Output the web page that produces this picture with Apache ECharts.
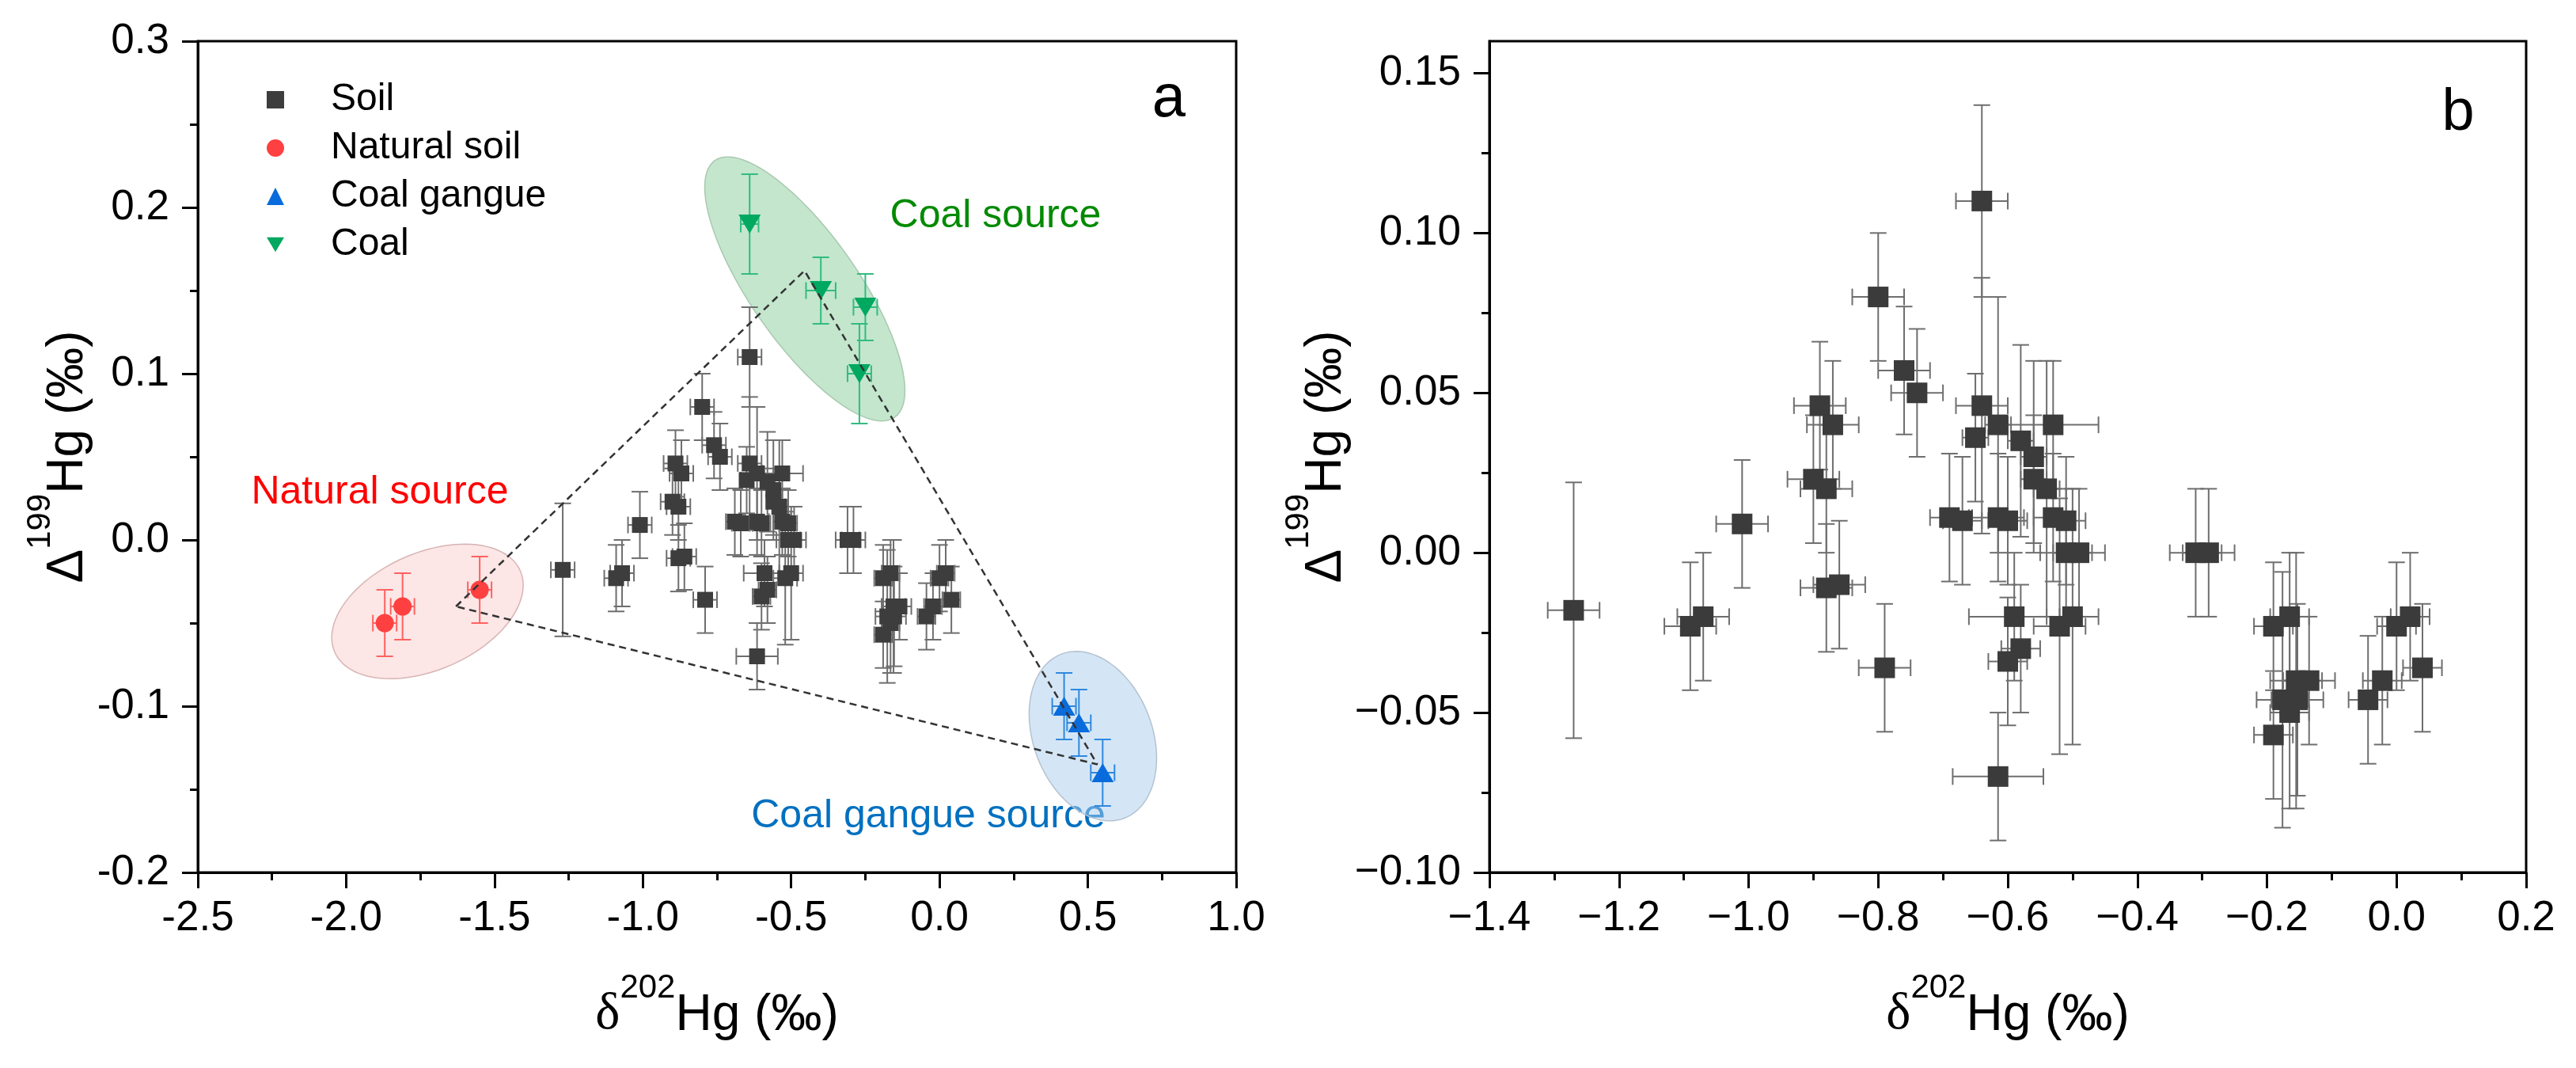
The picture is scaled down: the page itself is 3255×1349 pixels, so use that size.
<!DOCTYPE html>
<html>
<head>
<meta charset="utf-8">
<script src="https://cdn.jsdelivr.net/npm/echarts@6/dist/echarts.min.js"></script>
<style>
  html, body { margin: 0; padding: 0; background: #fff; }
  #chart { width: 3255px; height: 1349px; }
</style>
</head>
<body>
<div id="chart"></div>
<script>
// Hg isotopes: soil vs. sources -------------------------------------------

// soil samples (same set in both panels)
const soilX = [-1.27, -1.09, -1.07, -1.01, -0.90, -0.89, -0.88, -0.87, -0.88, -0.86,
  -0.80, -0.79, -0.76, -0.74, -0.69, -0.67, -0.65, -0.64, -0.64, -0.615,
  -0.615, -0.60, -0.615, -0.59, -0.58, -0.60, -0.58, -0.56, -0.56, -0.54,
  -0.53, -0.53, -0.51, -0.51, -0.49, -0.52, -0.50, -0.31, -0.29, -0.19,
  -0.165, -0.19, -0.176, -0.153, -0.165, -0.155, -0.135, -0.044, -0.022, 0.0,
  0.021, 0.040];
const soilY = [-0.018, -0.023, -0.020, 0.009, 0.023, 0.046, 0.020, 0.040, -0.011, -0.010,
  0.080, -0.036, 0.057, 0.050, 0.011, 0.010, 0.036, 0.110, 0.046, 0.040,
  0.011, 0.010, -0.070, -0.020, -0.030, -0.034, 0.035, 0.030, 0.023, 0.020,
  0.040, 0.011, 0.010, 0.000, 0.000, -0.023, -0.020, 0.000, 0.000, -0.023,
  -0.020, -0.057, -0.046, -0.046, -0.050, -0.040, -0.040, -0.046, -0.040, -0.023,
  -0.020, -0.036];
const soilEx = [0.04, 0.04, 0.04, 0.04, 0.04, 0.04, 0.04, 0.04, 0.04, 0.04,
  0.04, 0.04, 0.04, 0.04, 0.03, 0.03, 0.02, 0.04, 0.04, 0.02,
  0.04, 0.03, 0.07, 0.07, 0.03, 0.03, 0.02, 0.02, 0.02, 0.02,
  0.07, 0.03, 0.03, 0.04, 0.04, 0.04, 0.04, 0.04, 0.04, 0.03,
  0.03, 0.03, 0.04, 0.04, 0.03, 0.04, 0.04, 0.03, 0.03, 0.03,
  0.03, 0.03];
const soilEy = [0.04, 0.02, 0.02, 0.02, 0.02, 0.02, 0.02, 0.02, 0.02, 0.02,
  0.02, 0.02, 0.02, 0.02, 0.02, 0.02, 0.02, 0.03, 0.04, 0.04,
  0.02, 0.02, 0.02, 0.02, 0.02, 0.02, 0.03, 0.03, 0.02, 0.04,
  0.02, 0.02, 0.02, 0.02, 0.02, 0.04, 0.04, 0.02, 0.02, 0.02,
  0.02, 0.02, 0.04, 0.03, 0.03, 0.04, 0.02, 0.02, 0.02, 0.02,
  0.02, 0.02];

const naturalX = [-1.87, -1.81, -1.55];
const naturalY = [-0.050, -0.040, -0.030];
const naturalEx = [0.04, 0.04, 0.04];
const naturalEy = [0.02, 0.02, 0.02];

const gangueX = [0.42, 0.47, 0.55];
const gangueY = [-0.100, -0.110, -0.140];
const gangueEx = [0.04, 0.04, 0.04];
const gangueEy = [0.02, 0.02, 0.02];

const coalX = [-0.64, -0.40, -0.25, -0.27];
const coalY = [0.190, 0.150, 0.140, 0.100];
const coalEx = [0.03, 0.05, 0.04, 0.04];
const coalEy = [0.03, 0.02, 0.02, 0.03];

// mixing triangle (closed)
const triX = [-1.63, -0.455, 0.532, -1.63];
const triY = [-0.040, 0.162, -0.135, -0.040];

// source ellipses: natural, coal, coal gangue
const ellipseX = [-1.726, -0.454, 0.517];
const ellipseY = [-0.043, 0.151, -0.118];

// right panel y ticks
const rightYMajor = [-0.10, -0.05, 0.00, 0.05, 0.10, 0.15];
const rightYMinor = [-0.075, -0.025, 0.025, 0.075, 0.125];

// -------------------------------------------------------------------------
const FONT = '"Liberation Sans", Arial, sans-serif';
const SERIF = '"Liberation Serif", "Times New Roman", serif';
const zip = (...cols) => cols[0].map((_, i) => cols.map((c) => c[i]));

const ellipseShape = [
  { a: 128, b: 74, tilt: -23.6, fill: "rgba(250,205,205,0.5)", stroke: "#d8b4b4" },
  { a: 198, b: 68, tilt: 55, fill: "rgba(135,205,155,0.5)", stroke: "#a9c9b0" },
  { a: 111, b: 75, tilt: 69, fill: "rgba(170,205,238,0.5)", stroke: "#b4c2d0" },
];

function fmtLeft(v) {
  if (Math.abs(v) < 1e-9) v = 0;
  return v.toFixed(1);
}
function fmtRight(d) {
  return (v) => {
    if (Math.abs(v) < 1e-9) return (0).toFixed(d);
    return (v < 0 ? "\u2212" : "") + Math.abs(v).toFixed(d);
  };
}

const nameStyle = {
  color: "#000",
  fontFamily: FONT,
  fontSize: 64,
  rich: {
    t: { fontSize: 64, fontFamily: FONT, color: "#000", lineHeight: 88, verticalAlign: "bottom" },
    g: { fontSize: 66, fontFamily: SERIF, color: "#000", lineHeight: 88, verticalAlign: "bottom" },
    s: { fontSize: 42, fontFamily: FONT, color: "#000", lineHeight: 42, verticalAlign: "top" },
  },
};

function axis(extra) {
  return Object.assign(
    {
      type: "value",
      axisLine: { show: true, onZero: false, lineStyle: { color: "#000", width: 3 } },
      axisTick: { show: true, inside: false, length: 20, lineStyle: { color: "#000", width: 3 } },
      minorTick: { show: true, splitNumber: 2, length: 10, lineStyle: { color: "#000", width: 3 } },
      splitLine: { show: false },
      minorSplitLine: { show: false },
      nameLocation: "middle",
      nameTextStyle: nameStyle,
    },
    extra
  );
}

function errorBars(cap, color) {
  return function (params, api) {
    const x = api.value(0), y = api.value(1), ex = api.value(2), ey = api.value(3);
    const t = api.coord([x, y + ey]);
    const b = api.coord([x, y - ey]);
    const l = api.coord([x - ex, y]);
    const r = api.coord([x + ex, y]);
    const h = cap / 2;
    const style = { stroke: color, lineWidth: 2 };
    const seg = (x1, y1, x2, y2) => ({ type: "line", shape: { x1, y1, x2, y2 }, style });
    return {
      type: "group",
      children: [
        seg(t[0], t[1], b[0], b[1]),
        seg(t[0] - h, t[1], t[0] + h, t[1]),
        seg(b[0] - h, b[1], b[0] + h, b[1]),
        seg(l[0], l[1], r[0], r[1]),
        seg(l[0], l[1] - h, l[0], l[1] + h),
        seg(r[0], r[1] - h, r[0], r[1] + h),
      ],
    };
  };
}

function errSeries(name, xi, data, color) {
  return {
    name,
    type: "custom",
    xAxisIndex: xi,
    yAxisIndex: xi,
    data,
    encode: { x: 0, y: 1 },
    renderItem: errorBars(21, color),
    silent: true,
    z: 3,
  };
}

const downTri = "path://M0,0L20,0L10,17Z";
const xName = "{g|\u03b4}{s|202}{t|Hg (\u2030)}";
const yName = "{t|\u0394}{s|199}{t|Hg (\u2030)}";

const chart = echarts.init(document.getElementById("chart"));
chart.setOption({
  animation: false,
  backgroundColor: "#fff",
  textStyle: { fontFamily: FONT },
  grid: [
    { left: 250, top: 52, width: 1312, height: 1050, show: true, borderColor: "#000", borderWidth: 3, containLabel: false },
    { left: 1882, top: 52, width: 1310, height: 1050, show: true, borderColor: "#000", borderWidth: 3, containLabel: false },
  ],
  legend: {
    orient: "vertical",
    left: 332,
    top: 97,
    itemWidth: 22,
    itemHeight: 22,
    itemGap: 13,
    textStyle: { fontSize: 48, fontFamily: FONT, color: "#000", padding: [0, 0, 0, 54] },
    data: [
      { name: "Soil", icon: "rect" },
      { name: "Natural soil", icon: "circle" },
      { name: "Coal gangue", icon: "triangle" },
      { name: "Coal", icon: downTri },
    ],
  },
  xAxis: [
    axis({
      gridIndex: 0, min: -2.5, max: 1.0, interval: 0.5,
      name: xName, nameGap: 125,
      axisLabel: { color: "#000", fontSize: 53, fontFamily: FONT, margin: 32, formatter: fmtLeft },
    }),
    axis({
      gridIndex: 1, min: -1.4, max: 0.2, interval: 0.2,
      name: xName, nameGap: 125,
      axisLabel: { color: "#000", fontSize: 53, fontFamily: FONT, margin: 32, formatter: fmtRight(1) },
    }),
  ],
  yAxis: [
    axis({
      gridIndex: 0, min: -0.2, max: 0.3, interval: 0.1,
      name: yName, nameGap: 131,
      axisLabel: { color: "#000", fontSize: 53, fontFamily: FONT, margin: 36, formatter: fmtLeft },
    }),
    axis({
      gridIndex: 1, min: -0.1, max: 0.16, position: "left",
      name: yName, nameGap: 162,
      axisTick: { show: true, inside: false, length: 20, customValues: rightYMajor, lineStyle: { color: "#000", width: 3 } },
      minorTick: { show: false },
      axisLabel: { color: "#000", fontSize: 53, fontFamily: FONT, margin: 36, customValues: rightYMajor, formatter: fmtRight(2) },
    }),
    axis({
      gridIndex: 1, min: -0.1, max: 0.16, position: "left",
      axisLine: { show: false, onZero: false },
      axisTick: { show: true, inside: false, length: 10, customValues: rightYMinor, lineStyle: { color: "#000", width: 3 } },
      minorTick: { show: false },
      axisLabel: { show: false },
    }),
  ],
  series: [
    {
      name: "ellipses",
      type: "custom",
      xAxisIndex: 0,
      yAxisIndex: 0,
      data: zip(ellipseX, ellipseY),
      encode: { x: 0, y: 1 },
      silent: true,
      z: 1,
      renderItem: (params, api) => {
        const e = ellipseShape[params.dataIndex];
        const c = api.coord([api.value(0), api.value(1)]);
        const th = (e.tilt * Math.PI) / 180;
        const ux = Math.cos(th), uy = Math.sin(th);
        const pts = [];
        for (let k = 0; k < 96; k++) {
          const t = (k / 96) * Math.PI * 2;
          const p = e.a * Math.cos(t), q = e.b * Math.sin(t);
          pts.push([c[0] + p * ux - q * uy, c[1] + p * uy + q * ux]);
        }
        return { type: "polygon", shape: { points: pts }, style: { fill: e.fill, stroke: e.stroke, lineWidth: 1.5 } };
      },
    },
    errSeries("soilErr", 0, zip(soilX, soilY, soilEx, soilEy), "#6e6e6e"),
    errSeries("naturalErr", 0, zip(naturalX, naturalY, naturalEx, naturalEy), "#ff6262"),
    errSeries("gangueErr", 0, zip(gangueX, gangueY, gangueEx, gangueEy), "#2f88de"),
    errSeries("coalErr", 0, zip(coalX, coalY, coalEx, coalEy), "#33bb80"),
    {
      name: "Soil", type: "scatter", xAxisIndex: 0, yAxisIndex: 0,
      data: zip(soilX, soilY), symbol: "rect", symbolSize: 20,
      itemStyle: { color: "#3d3d3d", opacity: 1 }, z: 4,
    },
    {
      name: "Natural soil", type: "scatter", xAxisIndex: 0, yAxisIndex: 0,
      data: zip(naturalX, naturalY), symbol: "circle", symbolSize: 23,
      itemStyle: { color: "#ff4040", opacity: 1 }, z: 4,
    },
    {
      name: "Coal gangue", type: "scatter", xAxisIndex: 0, yAxisIndex: 0,
      data: zip(gangueX, gangueY), symbol: "triangle", symbolSize: [28, 24],
      itemStyle: { color: "#0a6cdc", opacity: 1 }, z: 4,
    },
    {
      name: "Coal", type: "scatter", xAxisIndex: 0, yAxisIndex: 0,
      data: zip(coalX, coalY), symbol: downTri, symbolSize: [28, 24],
      itemStyle: { color: "#00a860", opacity: 1 }, z: 4,
    },
    {
      name: "mixing", type: "line", xAxisIndex: 0, yAxisIndex: 0,
      data: zip(triX, triY), symbol: "none", silent: true,
      lineStyle: { color: "#333", width: 2.5, type: [9, 6] }, z: 6,
    },
    // panel b
    errSeries("soilErrB", 1, zip(soilX, soilY, soilEx, soilEy), "#6e6e6e"),
    {
      name: "SoilB", type: "scatter", xAxisIndex: 1, yAxisIndex: 1,
      data: zip(soilX, soilY), symbol: "rect", symbolSize: 26,
      itemStyle: { color: "#3b3b3b", opacity: 1 }, z: 4,
    },
  ],
  graphic: [
    { type: "text", x: 1477, y: 126, style: { text: "a", fontSize: 76, fontFamily: FONT, fill: "#000", align: "center", verticalAlign: "middle" } },
    { type: "text", x: 3106, y: 144, style: { text: "b", fontSize: 74, fontFamily: FONT, fill: "#000", align: "center", verticalAlign: "middle" } },
    { type: "text", x: 1258, y: 273, style: { text: "Coal source", fontSize: 50, fontFamily: FONT, fill: "#008a00", align: "center", verticalAlign: "middle" } },
    { type: "text", x: 480, y: 622, style: { text: "Natural source", fontSize: 50, fontFamily: FONT, fill: "#ff0000", align: "center", verticalAlign: "middle" } },
    { type: "text", x: 1173, y: 1031, style: { text: "Coal gangue source", fontSize: 50, fontFamily: FONT, fill: "#0070c0", align: "center", verticalAlign: "middle" } },
  ],
});
</script>
</body>
</html>
